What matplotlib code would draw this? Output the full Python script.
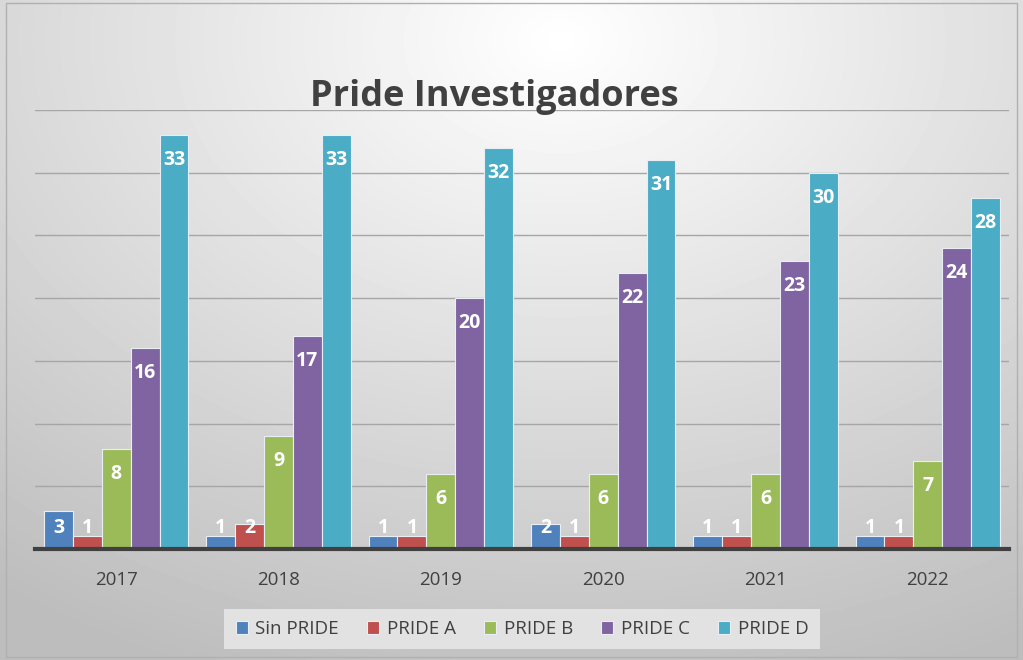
import numpy as np
import matplotlib
matplotlib.use("Agg")
import matplotlib.pyplot as plt

plt.rcParams['font.family'] = ['Open Sans', 'DejaVu Sans']

years = ['2017', '2018', '2019', '2020', '2021', '2022']
series = ['Sin PRIDE', 'PRIDE A', 'PRIDE B', 'PRIDE C', 'PRIDE D']
sin_pride = [3, 1, 1, 2, 1, 1]
pride_a = [1, 2, 1, 1, 1, 1]
pride_b = [8, 9, 6, 6, 6, 7]
pride_c = [16, 17, 20, 22, 23, 24]
pride_d = [33, 33, 32, 31, 30, 28]
colors = ['#4F81BD', '#C0504D', '#9BBB59', '#8064A2', '#4BACC6']

W, H = 1023, 660
fig = plt.figure(figsize=(W / 100, H / 100), dpi=100)

# gradient background
bg = fig.add_axes([0, 0, 1, 1], zorder=-10)
yy, xx = np.mgrid[0:H, 0:W]
d = np.sqrt(((xx - 560) / W) ** 2 + ((yy - 40) / H * 0.9) ** 2)
shade = np.clip(1.0 - 0.28 * d, 0.74, 1.0)
bg.imshow(shade, cmap='gray', vmin=0, vmax=1, extent=[0, 1, 0, 1], aspect='auto')
bg.plot([0.006, 0.994, 0.994, 0.006, 0.006], [0.004, 0.004, 0.996, 0.996, 0.004],
        color='#b0b0b0', lw=1)
bg.set_xlim(0, 1)
bg.set_ylim(0, 1)
bg.axis('off')

ax = fig.add_axes([35 / W, 1 - 549 / H, (1009 - 35) / W, (549 - 110) / H])
ax.patch.set_alpha(0)

data = [sin_pride, pride_a, pride_b, pride_c, pride_d]
x = np.arange(len(years))
bw = 0.178
for i, (vals, c, name) in enumerate(zip(data, colors, series)):
    pos = x + (i - 2) * bw
    ax.bar(pos, vals, width=bw, color=c, edgecolor='#e8eef4', linewidth=0.8,
           label=name, zorder=3)
    for p, v in zip(pos, vals):
        ax.text(p, max(v - 2.0, 1.7), str(v), ha='center', va='center',
                color='white', fontsize=14, fontweight='bold', zorder=4)

ax.set_ylim(0, 35)
ax.set_xlim(-0.5, len(years) - 0.5)
ax.set_yticks(range(5, 36, 5))
ax.yaxis.grid(True, color='#a6a6a6', lw=1)
ax.set_axisbelow(True)
ax.tick_params(axis='y', left=False, labelleft=False)
ax.tick_params(axis='x', bottom=False, labelsize=13.5, labelcolor='#404040', pad=12)
ax.set_xticks(x)
ax.set_xticklabels(years)
for s in ['top', 'right', 'left']:
    ax.spines[s].set_visible(False)
ax.spines['bottom'].set_color('#404040')
ax.spines['bottom'].set_linewidth(3)
ax.spines['bottom'].set_zorder(5)

fig.text(494 / W, 1 - 97 / H, 'Pride Investigadores', ha='center', va='center',
         fontsize=26, fontweight='bold', color='#404040')

leg = fig.legend(loc='center', bbox_to_anchor=(522 / W, 1 - 629 / H), ncol=5,
                 fontsize=13.5, frameon=True, fancybox=False, handlelength=0.65,
                 handleheight=0.65, handletextpad=0.4, columnspacing=1.5,
                 borderpad=0.6)
leg.get_frame().set_facecolor('#e6e6e6')
leg.get_frame().set_edgecolor('none')
leg.get_frame().set_alpha(0.9)
for t in leg.get_texts():
    t.set_color('#404040')

fig.savefig('out.png', dpi=100)
